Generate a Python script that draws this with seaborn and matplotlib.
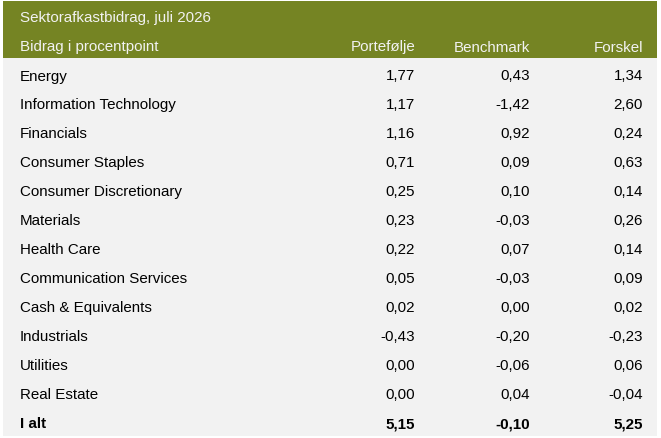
import numpy as np
import pandas as pd
import seaborn as sns
import matplotlib.pyplot as plt

title = 'Sektorafkastbidrag, juli 2026'
header = ['Bidrag i procentpoint', 'Portefølje', 'Benchmark', 'Forskel']
sectors = ['Energy', 'Information Technology', 'Financials', 'Consumer Staples',
           'Consumer Discretionary', 'Materials', 'Health Care',
           'Communication Services', 'Cash & Equivalents', 'Industrials',
           'Utilities', 'Real Estate']
portfolio = [1.77, 1.17, 1.16, 0.71, 0.25, 0.23, 0.22, 0.05, 0.02, -0.43, 0.00, 0.00]
benchmark = [0.43, -1.42, 0.92, 0.09, 0.10, -0.03, 0.07, -0.03, 0.00, -0.20, -0.06, 0.04]
difference = [1.34, 2.60, 0.24, 0.63, 0.14, 0.26, 0.14, 0.09, 0.02, -0.23, 0.06, -0.04]
total_label = 'I alt'
totals = [5.15, -0.10, 5.25]

df = pd.DataFrame({'sector': sectors, 'port': portfolio,
                   'bench': benchmark, 'diff': difference})

sns.set_theme(style='white')
plt.rcParams['font.family'] = ['Liberation Sans', 'DejaVu Sans']

green = '#758423'
body = '#f2f2f2'
fs = 10.9

def fmt(v):
    s = '{:.2f}'.format(v).replace('.', ',')
    return s

fig = plt.figure(figsize=(6.61, 4.39), dpi=100)
ax = fig.add_axes([0, 0, 1, 1])
ax.set_xlim(0, 661)
ax.set_ylim(439, 0)
ax.axis('off')

# header and body backgrounds
ax.fill_between([3, 657], 2, 59, color=green, lw=0)
ax.fill_between([3, 657], 59, 437, color=body, lw=0)

col_x = [20, 415, 530, 643]
ax.text(col_x[0], 18, title, color='#f2f2f2', fontsize=fs, va='center', ha='left')
for i, h in enumerate(header):
    ax.text(col_x[i], 47.5, h, color='#f2f2f2', fontsize=fs, va='center',
            ha='left' if i == 0 else 'right')

row_h = 29
for i, r in df.iterrows():
    y = 76.5 + row_h * i
    ax.text(col_x[0], y, r['sector'], fontsize=fs, va='center', ha='left', color='black')
    for j, key in enumerate(['port', 'bench', 'diff']):
        ax.text(col_x[j + 1], y, fmt(r[key]), fontsize=fs, va='center', ha='right', color='black')

y = 76.5 + row_h * len(df)
ax.text(col_x[0], y, total_label, fontsize=fs, va='center', ha='left', color='black', weight='bold')
for j, v in enumerate(totals):
    ax.text(col_x[j + 1], y, fmt(v), fontsize=fs, va='center', ha='right', color='black', weight='bold')

fig.savefig('out.png', dpi=100, facecolor='white')
